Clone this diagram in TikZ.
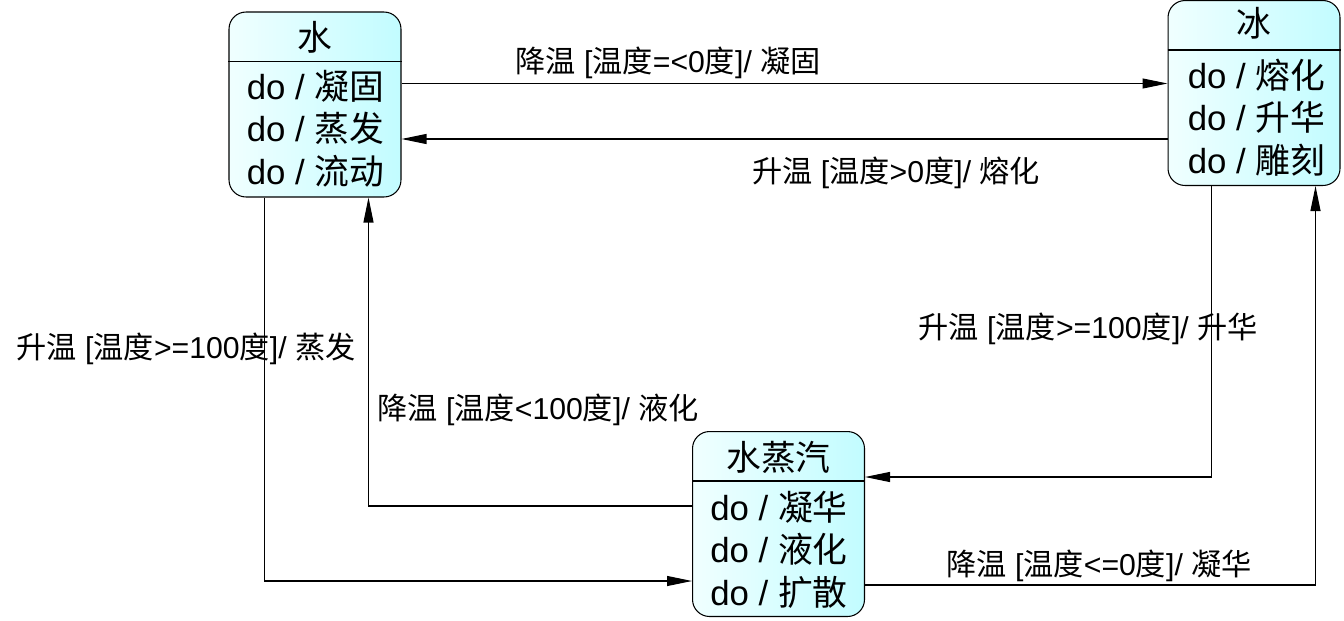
\documentclass[tikz,border=0pt]{standalone}
\usepackage{fontspec}
\setmainfont{Liberation Sans}
\newfontfamily\cjk{Noto Sans CJK SC}
\usepackage{tikz}
\usetikzlibrary{calc}
\usepackage{xcolor}
\usetikzlibrary{arrows.meta, positioning}

\newcommand{\zh}[1]{{\cjk #1}}
\definecolor{stlight}{HTML}{F0FFFF}
\definecolor{stdark}{HTML}{C2FCFF}

\tikzset{
  statebox/.style={draw=black, line width=0.6pt, rounded corners=0.34cm,
    left color=stlight, right color=stdark,
    minimum width=3.44cm, minimum height=3.7cm, inner sep=0pt},
  statetitle/.style={font=\fontsize{19.8}{21}\selectfont, inner sep=0pt},
  statebody/.style={font=\fontsize{19.8}{24.2}\selectfont, align=left, anchor=west, inner sep=0pt},
  trans/.style={line width=0.6pt, -{Triangle[length=0.5cm,width=0.2cm]}},
  translabel/.style={font=\fontsize{17.2}{18}\selectfont, inner sep=0pt}
}

\begin{document}
\begin{tikzpicture}[x=0.02cm,y=-0.02cm]

\useasboundingbox (0,0) rectangle (1344,620);

% ------------------------------------------------------------
% States
% ------------------------------------------------------------
\node[statebox] (water) at (315,104.5) {};
\node[statebox] (ice)   at (1254,93)   {};
\node[statebox] (steam) at (778.5,524) {};

% header lines
\foreach \s in {water, ice, steam} {
  \draw[line width=0.6pt] ($(\s.north west)+(0,50)$) -- ($(\s.north east)+(0,50)$);
}

% titles
\node[statetitle] (waterT) at ($(water.north)+(0,26)$) {\zh{水}};
\node[statetitle] (iceT)   at ($(ice.north)+(0,23)$)   {\zh{冰}};
\node[statetitle] (steamT) at ($(steam.north)+(0,26)$) {\zh{水蒸汽}};

% activities
\node[statebody] (waterB) at ($(water.west)+(18,24)$)
{do / \zh{凝固}\\do / \zh{蒸发}\\do / \zh{流动}};
\node[statebody] (iceB) at ($(ice.west)+(20,24.5)$)
{do / \zh{熔化}\\do / \zh{升华}\\do / \zh{雕刻}};
\node[statebody] (steamB) at ($(steam.west)+(18,25.5)$)
{do / \zh{凝华}\\do / \zh{液化}\\do / \zh{扩散}};

% ------------------------------------------------------------
% Connector end points
% ------------------------------------------------------------
\coordinate (w1) at ($(water.north east)+(0,72)$);
\coordinate (i1) at ($(ice.north west)+(0,139)$);
\coordinate (w2) at ($(water.south west)+(36,0)$);
\coordinate (s1) at ($(steam.north west)+(0,150)$);
\coordinate (s2) at ($(steam.north west)+(0,75)$);
\coordinate (w3) at ($(water.south west)+(140,0)$);
\coordinate (i2) at ($(ice.south west)+(44,0)$);
\coordinate (s3) at ($(steam.north east)+(0,46)$);
\coordinate (s4) at ($(steam.north east)+(0,154)$);
\coordinate (i3) at ($(ice.south west)+(148,0)$);

% ------------------------------------------------------------
% Transitions
% ------------------------------------------------------------
\draw[trans] (w1) -- (w1 -| ice.west);
\draw[trans] (i1) -- (i1 -| water.east);
\draw[trans] (w2) |- (s1);
\draw[trans] (s2) -| (w3);
\draw[trans] (i2) |- (s3);
\draw[trans] (s4) -| (i3);

% labels
\node[translabel] (lFreeze) at (668,63)
{\zh{降温} [\zh{温度}=<0\zh{度}]/ \zh{凝固}};
\node[translabel] (lMelt) at (896,173)
{\zh{升温} [\zh{温度}>0\zh{度}]/ \zh{熔化}};
\node[translabel] (lBoil) at (186,349)
{\zh{升温} [\zh{温度}>=100\zh{度}]/ \zh{蒸发}};
\node[translabel] (lCond) at (538,410)
{\zh{降温} [\zh{温度}<100\zh{度}]/ \zh{液化}};
\node[translabel] (lSubl) at (1088,329)
{\zh{升温} [\zh{温度}>=100\zh{度}]/ \zh{升华}};
\node[translabel] (lDepo) at (1099,566)
{\zh{降温} [\zh{温度}<=0\zh{度}]/ \zh{凝华}};

\end{tikzpicture}
\end{document}
